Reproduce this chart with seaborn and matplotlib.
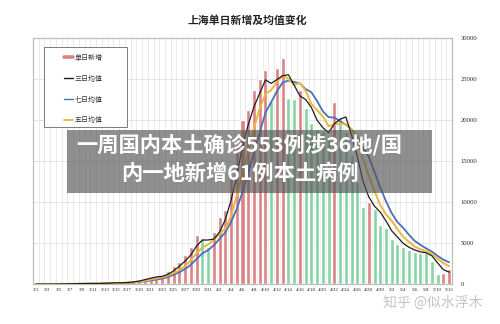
import numpy as np
import pandas as pd
import matplotlib.pyplot as plt
from matplotlib.lines import Line2D
from matplotlib.patches import Rectangle
import seaborn as sns

# daily new cases in Shanghai, 3/1 - 5/12
dates = ([f"3/{d}" for d in range(1, 32)] + [f"4/{d}" for d in range(1, 31)]
         + [f"5/{d}" for d in range(1, 13)])
cases = [2, 5, 5, 19, 28, 48, 55, 65, 80, 75, 83, 65,
         169, 139, 202, 158, 260, 374, 509, 758, 896, 981, 983, 1609,
         2269, 2676, 3500, 4477, 5982, 5653, 4502,
         6311, 8226, 9006, 13354, 17077, 19982, 21222, 23624, 24944, 26087,
         22348, 26330, 27500, 22700, 22500, 23600, 21400, 19600, 18900, 18700,
         17700, 22200, 20400, 18500, 15700, 12500, 9400, 10000, 9100, 7200,
         6800, 5500, 4900, 4500, 4100, 3900, 3800, 3750, 2800, 1200, 1300, 1900]
y_ticks = [0, 5000, 10000, 15000, 20000, 25000, 30000]

series_labels = ['单日新增', '三日均值', '七日均值', '五日均值']
bar_up, bar_down = '#d98484', '#86d3a5'
c3, c7, c5 = '#1e1e1e', '#4a70bd', '#ecb73a'

df = pd.DataFrame({'date': dates, 'cases': cases})
df['idx'] = np.arange(len(df))
df['trend'] = np.where(df['cases'].diff().fillna(1) >= 0, 'up', 'down')
df['ma3'] = df['cases'].rolling(3, min_periods=1).mean()
df['ma5'] = df['cases'].rolling(5, min_periods=1).mean()
df['ma7'] = df['cases'].rolling(7, min_periods=1).mean()

sns.set_style('white')
plt.rcParams['font.family'] = ['Noto Sans CJK SC', 'DejaVu Sans']

fig = plt.figure(figsize=(5.0, 3.24), dpi=100)
ax = fig.add_axes([0.066, 0.123, 0.838, 0.760])

sns.barplot(data=df, x='date', y='cases', hue='trend', order=dates,
            palette={'up': bar_up, 'down': bar_down}, dodge=False,
            width=0.7, saturation=1, legend=False, ax=ax, zorder=2)
sns.lineplot(data=df, x='idx', y='ma7', color=c7, lw=1.3, ax=ax, zorder=3)
sns.lineplot(data=df, x='idx', y='ma5', color=c5, lw=1.4, ax=ax, zorder=3)
sns.lineplot(data=df, x='idx', y='ma3', color=c3, lw=0.9, ax=ax, zorder=4)

ax.set_xlim(-0.5, len(dates) - 0.5)
ax.set_ylim(0, 30000)
ax.set_xlabel('')
ax.set_ylabel('')

# grid: one vertical line per day, horizontal every 5000
for x in np.arange(-0.5, len(dates), 1):
    ax.axvline(x, color='#e6e6e6', lw=0.6, zorder=0)
for y in y_ticks[1:-1]:
    ax.axhline(y, color='#e0e0e0', lw=0.6, zorder=0)

ax.set_xticks(range(0, len(dates), 2))
ax.set_xticklabels(dates[::2], family='Liberation Serif', fontsize=3.6)
ax.yaxis.tick_right()
ax.set_yticks(y_ticks)
ax.set_yticklabels([str(v) for v in y_ticks], family='Liberation Serif', fontsize=4.8)
ax.tick_params(axis='x', length=0, pad=3)
ax.tick_params(axis='y', length=0, pad=6)
for s in ax.spines.values():
    s.set_color('#bdbdbd')
    s.set_linewidth(0.9)

# legend box
ax.add_patch(Rectangle((0.026, 0.638), 0.198, 0.325, transform=ax.transAxes,
                       fill=True, facecolor='white', edgecolor='#7a7a7a', lw=0.7, zorder=5))
handles = [Line2D([], [], color=bar_up, lw=2.6),
           Line2D([], [], color=c3, lw=1.0),
           Line2D([], [], color=c7, lw=1.0),
           Line2D([], [], color=c5, lw=1.3)]
leg = ax.legend(handles, series_labels, loc='upper left', bbox_to_anchor=(0.062, 0.955),
                frameon=False, fontsize=5, handlelength=1.3, handletextpad=0.2,
                labelspacing=1.85, borderpad=0.2)
leg.set_zorder(6)
for t in leg.get_texts():
    t.set_color('#333333')

fig.text(0.494, 0.938, '上海单日新增及均值变化', ha='center', va='center',
         fontsize=7.8, fontweight='bold', color='#222222')

# news overlay band
fig.patches.append(Rectangle((0.134, 0.404), 0.730, 0.194, transform=fig.transFigure,
                             facecolor='#555555', alpha=0.66, edgecolor='none', zorder=10))
fig.text(0.478, 1 - 145 / 324, '一周国内本土确诊553例涉36地/国', ha='center', va='center',
         fontsize=15.3, fontweight='bold', color='white', zorder=11)
fig.text(0.480, 1 - 173 / 324, '内一地新增61例本土病例', ha='center', va='center',
         fontsize=15.3, fontweight='bold', color='white', zorder=11)

fig.text(0.866, 1 - 303 / 324, '知乎 @似水浮木', ha='center', va='center',
         fontsize=10, color='#c4c4c4', zorder=11)

fig.savefig('out.png', dpi=100, facecolor='white')
